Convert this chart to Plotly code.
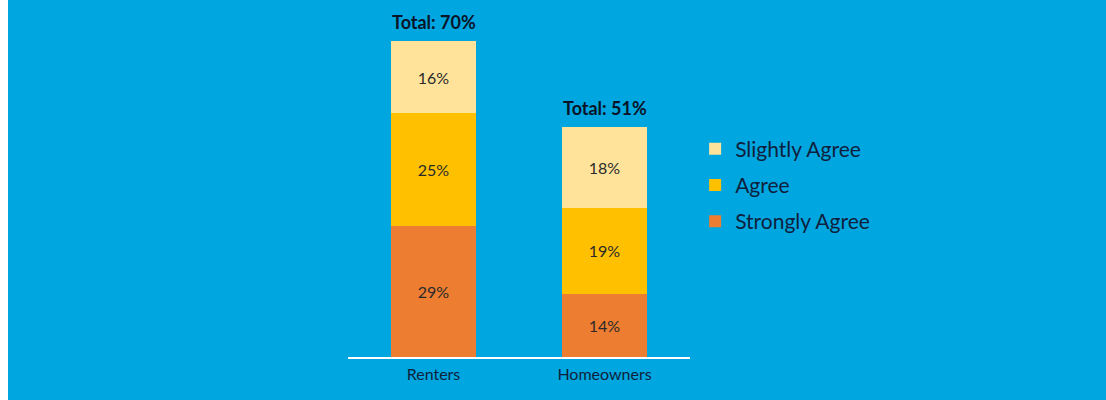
import plotly.graph_objects as go

categories = ["Renters", "Homeowners"]
strongly_agree = [29, 14]
agree = [25, 19]
slightly_agree = [16, 18]
series_names = ["Strongly Agree", "Agree", "Slightly Agree"]
series_colors = ["#ED7D31", "#FFC000", "#FFE39B"]
legend_ranks = [3, 2, 1]

BG = "#00A6DF"
TXT = "#0F1F3D"
FONT = "Lato"

fig = go.Figure()
for name, vals, col, rk in zip(series_names, [strongly_agree, agree, slightly_agree], series_colors, legend_ranks):
    fig.add_trace(go.Bar(
        x=categories, y=vals, name=name, marker=dict(color=col, line=dict(width=0)),
        texttemplate="%{y}%", textposition="inside", insidetextanchor="middle",
        textfont=dict(size=16, color="#2A2A2A", family=FONT), textangle=0,
        constraintext="none", legendgroup=name, legendrank=rk, hoverinfo="skip",
    ))

totals = [a + b + c for a, b, c in zip(strongly_agree, agree, slightly_agree)]
for cat, tot in zip(categories, totals):
    fig.add_annotation(x=cat, y=tot, text=f"<b>Total: {tot}%</b>", showarrow=False,
                       yanchor="bottom", yshift=6,
                       font=dict(size=18, color="#0A1428", family=FONT))

fig.add_shape(type="rect", xref="paper", yref="paper", x0=-348/342, x1=-340/342,
              y0=-43/316, y1=1 + 41/316, fillcolor="white", line=dict(width=0), layer="below")

fig.update_layout(
    width=1106, height=400,
    margin=dict(l=348, r=416, t=41, b=43),
    paper_bgcolor=BG, plot_bgcolor=BG,
    barmode="stack", bargap=0.5,
    showlegend=True,
    legend=dict(x=1.015, xanchor="left", y=0.723, yanchor="top",
                traceorder="grouped", tracegroupgap=6,
                font=dict(size=21, color=TXT, family=FONT),
                bgcolor="rgba(0,0,0,0)", itemwidth=30),
    xaxis=dict(showline=True, linecolor="white", linewidth=2, ticks="",
               tickfont=dict(size=16, color=TXT, family=FONT), showgrid=False,
               ticklabelstandoff=2, range=[-0.5, 1.5], fixedrange=True),
    yaxis=dict(visible=False, range=[0, 70], showgrid=False, fixedrange=True),
)

fig.write_html("out.html")
